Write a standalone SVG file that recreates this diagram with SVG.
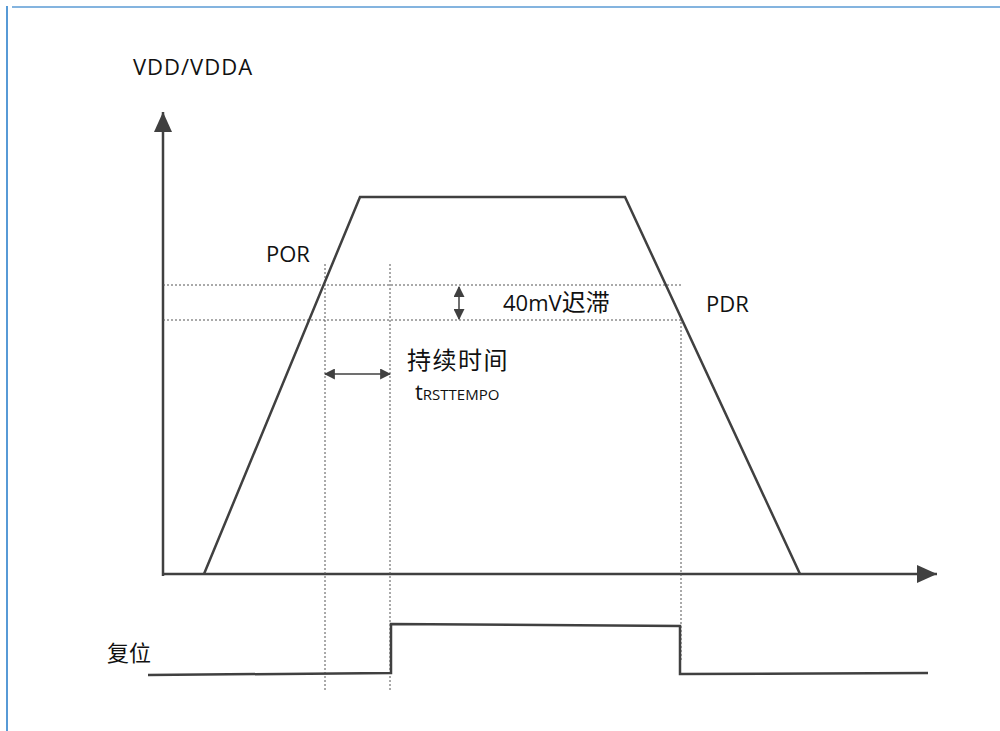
<svg xmlns="http://www.w3.org/2000/svg" width="1000" height="731" viewBox="0 0 1000 731">
<defs>
<style>
.ln{fill:none;stroke:#404040;stroke-width:2.5;stroke-linejoin:miter}
.dot{fill:none;stroke:#555;stroke-width:1;stroke-dasharray:2 2}
.t{font-family:"Open Sans","Noto Sans","Noto Sans CJK SC",sans-serif;fill:#111;font-size:22px}
.cjk{font-family:"Noto Sans CJK SC",sans-serif;fill:#111}
</style>
<marker id="ah" viewBox="0 0 10 10" refX="9" refY="5" markerWidth="11" markerHeight="11" markerUnits="userSpaceOnUse" orient="auto-start-reverse"><path d="M0,0 L10,5 L0,10 z" fill="#404040"/></marker>
<marker id="big" viewBox="0 0 10 10" refX="10" refY="5" markerWidth="20" markerHeight="18" markerUnits="userSpaceOnUse" orient="auto" preserveAspectRatio="none"><path d="M0,0 L10,5 L0,10 z" fill="#404040"/></marker>
</defs>
<rect width="1000" height="731" fill="#fff"/>
<line x1="12" y1="7" x2="1000" y2="7" stroke="#5b9bd5" stroke-width="1.5"/>
<line x1="7" y1="6" x2="7" y2="731" stroke="#1f78c8" stroke-width="1.5"/>
<g id="connectors">
<line class="ln" x1="163" y1="576" x2="163" y2="112" marker-end="url(#big)"/>
<line class="ln" x1="162" y1="574" x2="937" y2="574" marker-end="url(#big)"/>
<polyline class="dot" points="163,285 683,285"/>
<polyline class="dot" points="163,320 681,320 681,660"/>
<line class="dot" x1="325" y1="264" x2="325" y2="690"/>
<line class="dot" x1="390" y1="264" x2="390" y2="690"/>
<line stroke="#404040" stroke-width="1.5" x1="325" y1="374" x2="390" y2="374" marker-start="url(#ah)" marker-end="url(#ah)"/>
<line stroke="#404040" stroke-width="1.5" x1="459" y1="287" x2="459" y2="319" marker-start="url(#ah)" marker-end="url(#ah)"/>
</g>
<g id="vdd-curve"><polyline class="ln" points="204,574 360,197 625,197 800,574"/></g>
<g id="reset-curve"><polyline class="ln" points="148,675 391,673 391,624 680,626 680,674 928,673"/></g>
<g id="label-vdd"><text class="t" x="133" y="75" letter-spacing="1">VDD/VDDA</text></g>
<g id="label-por"><text class="t" x="266" y="262">POR</text></g>
<g id="label-pdr"><text class="t" x="706" y="312">PDR</text></g>
<g id="label-hys"><text class="t" x="503" y="311">40mV<tspan class="cjk" font-size="24">迟滞</tspan></text></g>
<g id="label-dur"><text class="cjk" x="407" y="369" font-size="24" letter-spacing="1.5">持续时间</text>
<text class="t" x="415" y="400">t<tspan font-size="15">RSTTEMPO</tspan></text></g>
<g id="label-reset"><text class="cjk" x="107" y="661" font-size="22">复位</text></g>
</svg>
